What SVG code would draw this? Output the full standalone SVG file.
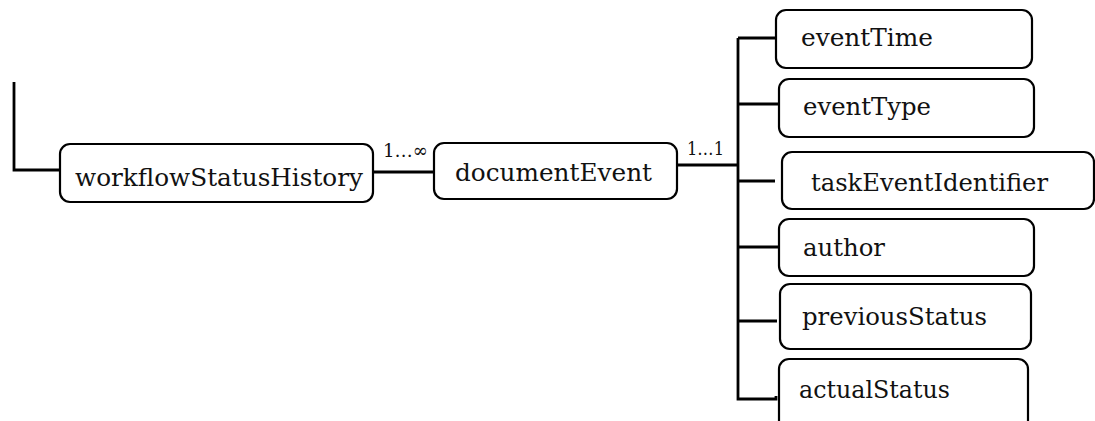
<svg xmlns="http://www.w3.org/2000/svg" width="1095" height="421" viewBox="0 0 1095 421">
<style>
.box{fill:#fff;stroke:#000;stroke-width:2.2}
.t{font-family:"DejaVu Serif","Liberation Serif",serif;font-size:25px;fill:#111}
.m{font-family:"DejaVu Serif","Liberation Serif",serif;font-size:19px;fill:#111}
.ln{fill:none;stroke:#000;stroke-width:2.8}
</style>
<rect width="1095" height="421" fill="#fff"/>
<g id="connectors">
<path class="ln" d="M14,82 V170 H60"/>
<path class="ln" d="M373,172 H435"/>
<path class="ln" d="M677,165 H738"/>
<path class="ln" d="M738,38 V399 H776 v-3"/>
<path class="ln" d="M738,38 H776"/>
<path class="ln" d="M738,104 H779"/>
<path class="ln" d="M738,181 H775"/>
<path class="ln" d="M738,247 H779"/>
<path class="ln" d="M738,321 H777"/>
<text class="m" x="383" y="157" textLength="45" lengthAdjust="spacingAndGlyphs">1…∞</text>
<text class="m" x="687" y="155" textLength="37" lengthAdjust="spacingAndGlyphs">1…1</text>
</g>
<g id="workflowStatusHistory">
<rect class="box" x="60" y="144" width="313" height="58" rx="10"/>
<text class="t" x="75" y="186" textLength="288" lengthAdjust="spacingAndGlyphs">workflowStatusHistory</text>
</g>
<g id="documentEvent">
<rect class="box" x="434" y="143" width="243" height="56" rx="10"/>
<text class="t" x="455" y="181" textLength="197" lengthAdjust="spacingAndGlyphs">documentEvent</text>
</g>
<g id="eventTime">
<rect class="box" x="776" y="10" width="256" height="58" rx="10"/>
<text class="t" x="801" y="46" textLength="132" lengthAdjust="spacingAndGlyphs">eventTime</text>
</g>
<g id="eventType">
<rect class="box" x="779" y="79" width="255" height="58" rx="10"/>
<text class="t" x="803" y="115" textLength="128" lengthAdjust="spacingAndGlyphs">eventType</text>
</g>
<g id="taskEventIdentifier">
<rect class="box" x="782" y="152" width="312" height="57" rx="10"/>
<text class="t" x="811" y="191" textLength="237" lengthAdjust="spacingAndGlyphs">taskEventIdentifier</text>
</g>
<g id="author">
<rect class="box" x="779" y="219" width="255" height="57" rx="10"/>
<text class="t" x="803" y="256" textLength="82" lengthAdjust="spacingAndGlyphs">author</text>
</g>
<g id="previousStatus">
<rect class="box" x="780" y="284" width="251" height="65" rx="10"/>
<text class="t" x="802" y="325" textLength="185" lengthAdjust="spacingAndGlyphs">previousStatus</text>
</g>
<g id="actualStatus">
<rect class="box" x="779" y="359" width="249" height="80" rx="10"/>
<text class="t" x="799" y="398" textLength="151" lengthAdjust="spacingAndGlyphs">actualStatus</text>
</g>
</svg>
